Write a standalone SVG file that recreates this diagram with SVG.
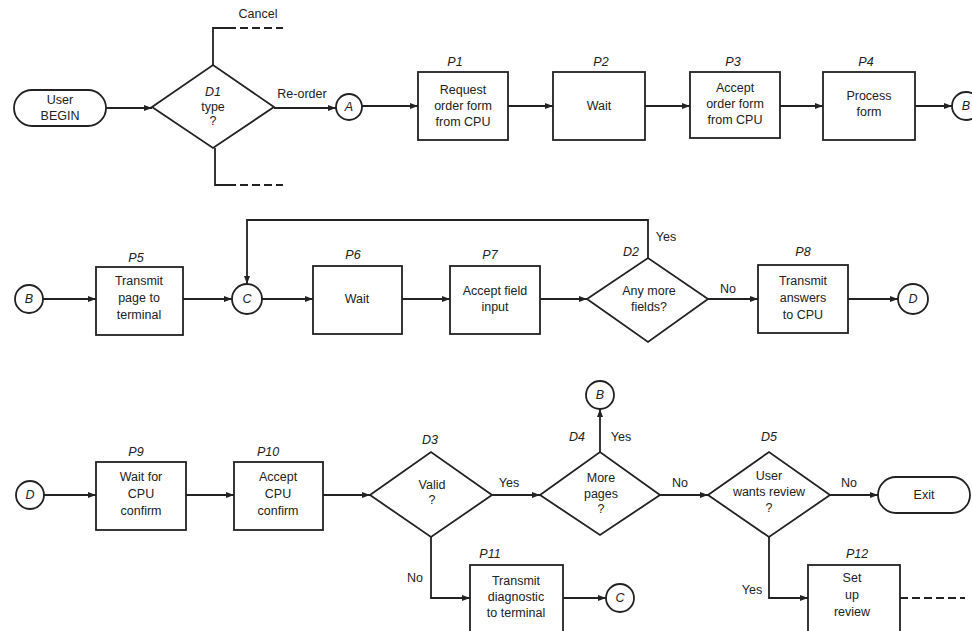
<svg xmlns="http://www.w3.org/2000/svg" width="972" height="631" viewBox="0 0 972 631">
<style>
.s{fill:#fff;stroke:#222;stroke-width:1.8}
.t{font-family:"Liberation Sans",Arial,sans-serif;font-size:12.5px;fill:#222;text-anchor:middle}
.l{font-family:"Liberation Sans",Arial,sans-serif;font-size:12.5px;font-style:italic;fill:#222;text-anchor:middle}
.c{fill:none;stroke:#222;stroke-width:1.8}
.d{fill:none;stroke:#222;stroke-width:1.8;stroke-dasharray:8,4}
</style>
<defs>
<marker id="ah" markerWidth="8" markerHeight="6" refX="8" refY="3" orient="auto" markerUnits="userSpaceOnUse">
<path d="M0,0 L8,3 L0,6 Z" fill="#222"/>
</marker>
</defs>
<rect width="972" height="631" fill="#fff"/>

<g id="connectors">
<path class="c" d="M106,108 H152" marker-end="url(#ah)"/>
<path class="c" d="M213,65 V28 H228"/>
<path class="d" d="M228,28 H283"/>
<path class="c" d="M215,148 V185 H228"/>
<path class="d" d="M228,185 H283"/>
<path class="c" d="M274,108 H336" marker-end="url(#ah)"/>
<path class="c" d="M362,106 H418" marker-end="url(#ah)"/>
<path class="c" d="M508,106 H553" marker-end="url(#ah)"/>
<path class="c" d="M645,106 H690" marker-end="url(#ah)"/>
<path class="c" d="M780,106 H823" marker-end="url(#ah)"/>
<path class="c" d="M915,106 H952" marker-end="url(#ah)"/>

<path class="c" d="M43,299 H96" marker-end="url(#ah)"/>
<path class="c" d="M183,299 H232" marker-end="url(#ah)"/>
<path class="c" d="M262,299 H313" marker-end="url(#ah)"/>
<path class="c" d="M648,258 V220 H247 V284" marker-end="url(#ah)"/>
<path class="c" d="M402,299 H450" marker-end="url(#ah)"/>
<path class="c" d="M540,299 H587" marker-end="url(#ah)"/>
<path class="c" d="M708,299 H758" marker-end="url(#ah)"/>
<path class="c" d="M848,299 H898" marker-end="url(#ah)"/>

<path class="c" d="M44,495 H96" marker-end="url(#ah)"/>
<path class="c" d="M186,495 H234" marker-end="url(#ah)"/>
<path class="c" d="M323,495 H370" marker-end="url(#ah)"/>
<path class="c" d="M492,495 H540" marker-end="url(#ah)"/>
<path class="c" d="M600,452 V409" marker-end="url(#ah)"/>
<path class="c" d="M660,495 H708" marker-end="url(#ah)"/>
<path class="c" d="M830,495 H878" marker-end="url(#ah)"/>
<path class="c" d="M431,537 V598 H470" marker-end="url(#ah)"/>
<path class="c" d="M563,598 H606" marker-end="url(#ah)"/>
<path class="c" d="M769,537 V598 H808" marker-end="url(#ah)"/>
<path class="d" d="M900,598 H965"/>

<text class="t" x="258" y="18">Cancel</text>
<text class="t" x="302" y="98">Re-order</text>
<text class="t" x="666" y="241">Yes</text>
<text class="t" x="728" y="293">No</text>
<text class="t" x="509" y="487">Yes</text>
<text class="t" x="621" y="441">Yes</text>
<text class="t" x="680" y="487">No</text>
<text class="t" x="849" y="487">No</text>
<text class="t" x="415" y="582">No</text>
<text class="t" x="752" y="594">Yes</text>
</g>

<g id="begin"><rect class="s" x="14" y="90" width="92" height="36" rx="18"/><text class="t" x="60" y="104">User</text><text class="t" x="60" y="120">BEGIN</text></g>
<g id="D1"><path class="s" d="M152,107 L213,65 L274,107 L213,148 Z"/><text class="l" x="213" y="96">D1</text><text class="t" x="213" y="111">type</text><text class="t" x="213" y="125">?</text></g>
<g id="A"><circle class="s" cx="349" cy="107" r="13"/><text class="l" x="349" y="111">A</text></g>
<g id="P1"><rect class="s" x="418" y="72" width="90" height="68"/><text class="l" x="455" y="66">P1</text><text class="t" x="463" y="94">Request</text><text class="t" x="463" y="110">order form</text><text class="t" x="463" y="126">from CPU</text></g>
<g id="P2"><rect class="s" x="553" y="72" width="92" height="68"/><text class="l" x="601" y="66">P2</text><text class="t" x="599" y="110">Wait</text></g>
<g id="P3"><rect class="s" x="690" y="72" width="90" height="66"/><text class="l" x="733" y="66">P3</text><text class="t" x="735" y="92">Accept</text><text class="t" x="735" y="108">order form</text><text class="t" x="735" y="124">from CPU</text></g>
<g id="P4"><rect class="s" x="823" y="72" width="92" height="68"/><text class="l" x="866" y="66">P4</text><text class="t" x="869" y="100">Process</text><text class="t" x="869" y="116">form</text></g>
<g id="B1"><circle class="s" cx="966" cy="106" r="14"/><text class="l" x="966" y="110">B</text></g>

<g id="B2"><circle class="s" cx="29" cy="299" r="14"/><text class="l" x="29" y="303">B</text></g>
<g id="P5"><rect class="s" x="96" y="267" width="87" height="68"/><text class="l" x="136" y="262">P5</text><text class="t" x="139" y="285">Transmit</text><text class="t" x="139" y="302">page to</text><text class="t" x="139" y="319">terminal</text></g>
<g id="C1"><circle class="s" cx="247" cy="299" r="15"/><text class="l" x="247" y="303">C</text></g>
<g id="P6"><rect class="s" x="313" y="266" width="89" height="68"/><text class="l" x="353" y="259">P6</text><text class="t" x="357" y="303">Wait</text></g>
<g id="P7"><rect class="s" x="450" y="266" width="90" height="68"/><text class="l" x="490" y="259">P7</text><text class="t" x="495" y="295">Accept field</text><text class="t" x="495" y="311">input</text></g>
<g id="D2"><path class="s" d="M587,299 L648,258 L708,299 L648,342 Z"/><text class="l" x="631" y="256">D2</text><text class="t" x="649" y="295">Any more</text><text class="t" x="649" y="311">fields?</text></g>
<g id="P8"><rect class="s" x="758" y="265" width="90" height="68"/><text class="l" x="803" y="256">P8</text><text class="t" x="803" y="285">Transmit</text><text class="t" x="803" y="302">answers</text><text class="t" x="803" y="319">to CPU</text></g>
<g id="D1c"><circle class="s" cx="913" cy="299" r="15"/><text class="l" x="913" y="303">D</text></g>

<g id="D2c"><circle class="s" cx="30" cy="495" r="14"/><text class="l" x="30" y="499">D</text></g>
<g id="P9"><rect class="s" x="96" y="462" width="90" height="68"/><text class="l" x="136" y="456">P9</text><text class="t" x="141" y="481">Wait for</text><text class="t" x="141" y="498">CPU</text><text class="t" x="141" y="515">confirm</text></g>
<g id="P10"><rect class="s" x="234" y="462" width="89" height="68"/><text class="l" x="268" y="456">P10</text><text class="t" x="278" y="481">Accept</text><text class="t" x="278" y="498">CPU</text><text class="t" x="278" y="515">confirm</text></g>
<g id="D3"><path class="s" d="M370,495 L431,452 L492,495 L431,537 Z"/><text class="l" x="430" y="444">D3</text><text class="t" x="432" y="489">Valid</text><text class="t" x="432" y="504">?</text></g>
<g id="B3"><circle class="s" cx="600" cy="395" r="14"/><text class="l" x="600" y="399">B</text></g>
<g id="D4"><path class="s" d="M540,495 L600,452 L660,495 L600,535 Z"/><text class="l" x="577" y="441">D4</text><text class="t" x="601" y="482">More</text><text class="t" x="601" y="498">pages</text><text class="t" x="601" y="513">?</text></g>
<g id="D5"><path class="s" d="M708,495 L769,452 L830,495 L769,537 Z"/><text class="l" x="769" y="441">D5</text><text class="t" x="769" y="480">User</text><text class="t" x="769" y="496">wants review</text><text class="t" x="769" y="512">?</text></g>
<g id="exit"><rect class="s" x="878" y="477" width="92" height="36" rx="18"/><text class="t" x="924" y="499">Exit</text></g>
<g id="P11"><rect class="s" x="470" y="565" width="93" height="70"/><text class="l" x="490" y="558">P11</text><text class="t" x="516" y="585">Transmit</text><text class="t" x="516" y="601">diagnostic</text><text class="t" x="516" y="617">to terminal</text></g>
<g id="C2"><circle class="s" cx="620" cy="598" r="14"/><text class="l" x="620" y="602">C</text></g>
<g id="P12"><rect class="s" x="808" y="565" width="92" height="70"/><text class="l" x="857" y="558">P12</text><text class="t" x="852" y="582">Set</text><text class="t" x="852" y="599">up</text><text class="t" x="852" y="616">review</text></g>
</svg>
